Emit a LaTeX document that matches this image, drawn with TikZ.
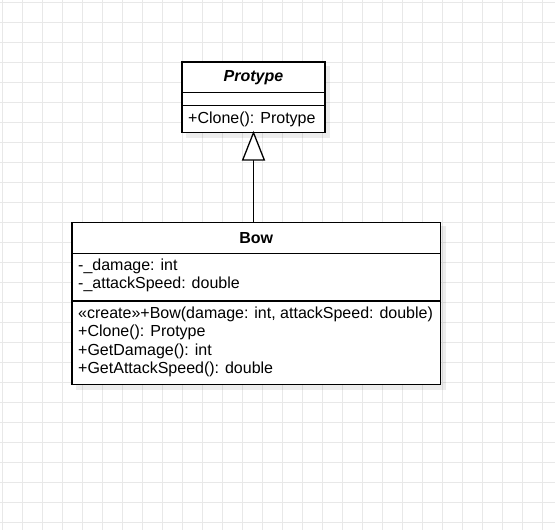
\documentclass[tikz,border=0pt]{standalone}
\usepackage{fontspec}
\setmainfont{Liberation Sans}
\begin{document}
\begin{tikzpicture}[x=1pt,y=-1pt,
  box/.style={draw=black,line width=1.3pt,fill=white},
  shadowbox/.style={fill=black,fill opacity=0.07,draw=none},
  row/.style={anchor=west,inner sep=0pt,font=\fontsize{16}{18}\selectfont},
  title/.style={inner sep=0pt,font=\fontsize{16}{18}\selectfont\bfseries},
  gridline/.style={draw=black!9,line width=0.8pt}
]
\useasboundingbox (0,0) rectangle (555,530);
\fill[white] (0,0) rectangle (555,530);
\foreach \k in {0,...,27} { \draw[gridline] (2+20*\k,0) -- (2+20*\k,530); }
\foreach \k in {0,...,26} { \draw[gridline] (0,2+20*\k) -- (555,2+20*\k); }

% shadows
\fill[shadowbox] (186,66) rectangle (330,138);
\fill[shadowbox] (76,226) rectangle (446,390);

% Protype class
\draw[box] (182,62) rectangle (325,132.7);
\draw[line width=1.3pt] (182,92.7) -- (325,92.7);
\draw[line width=1.3pt] (182,105.7) -- (325,105.7);
\node[title,font=\fontsize{16}{18}\selectfont\bfseries\itshape] (ptitle) at (253.5,77.3) {Protype};
\node[row] (pclone) at (188,119.5) {+Clone(): Protype};
\coordinate (ptop) at (253.5,132.7);

% Bow class
\draw[box] (72,222.3) rectangle (440.7,384.3);
\draw[line width=1.3pt] (72,253.3) -- (440.7,253.3);
\draw[line width=1.3pt] (72,301) -- (440.7,301);
\node[title] (btitle) at (256.3,238) {Bow};
\node[row] (a1) at (78,266) {-\_damage: int};
\node[row] (a2) at (78,284.5) {-\_attackSpeed: double};
\node[row] (m1) at (78,314) {«create»+Bow(damage: int, attackSpeed: double)};
\node[row] (m2) at (78,332.5) {+Clone(): Protype};
\node[row] (m3) at (78,351) {+GetDamage(): int};
\node[row] (m4) at (78,369.5) {+GetAttackSpeed(): double};
\coordinate (btop) at (253.5,222.3);

% generalization
\coordinate (tri) at (253.5,160);
\draw[line width=1.3pt] (btop) -- (tri);
\draw[line width=1.3pt,fill=white,line join=miter] (ptop) -- (264.3,160) -- (242.7,160) -- cycle;
\end{tikzpicture}
\end{document}
